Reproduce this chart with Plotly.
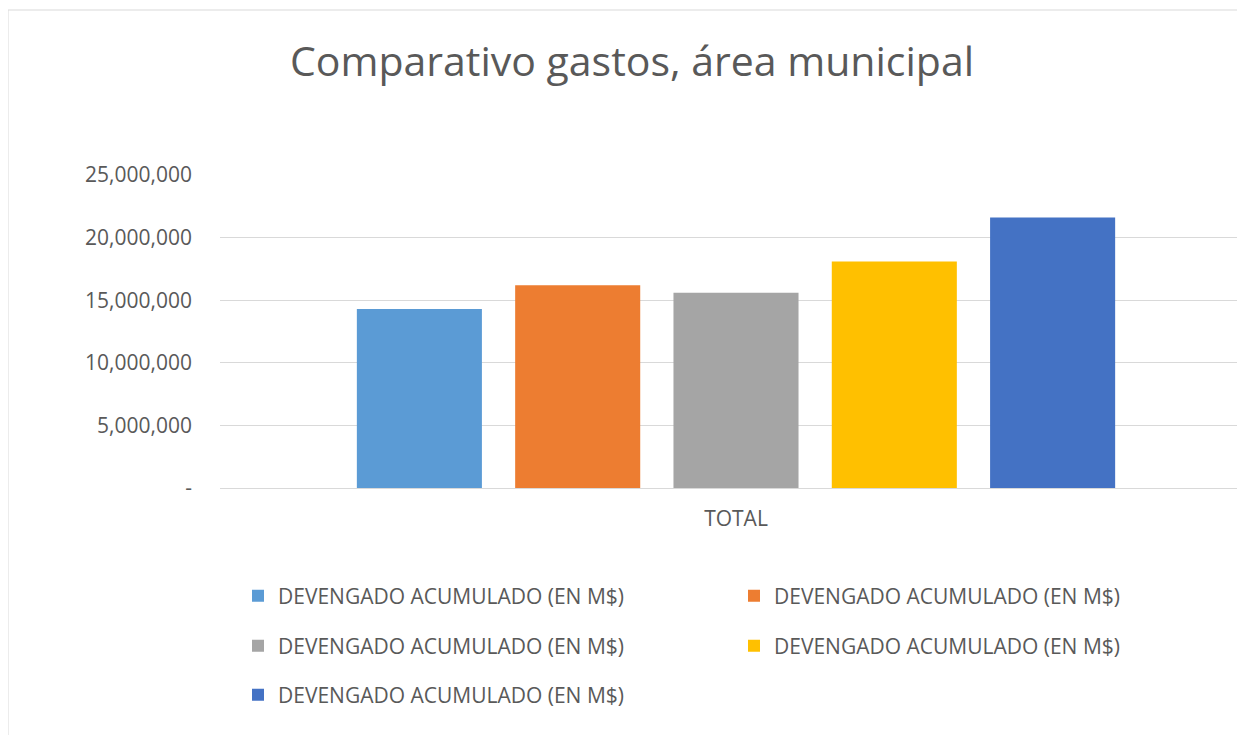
import plotly.graph_objects as go

categories = ["TOTAL"]
series_names = ["DEVENGADO ACUMULADO (EN M$)"] * 5
series_values = [14300000, 16200000, 15600000, 18100000, 21600000]
series_colors = ["#5B9BD5", "#ED7D31", "#A5A5A5", "#FFC000", "#4472C4"]
tick_vals = [0, 5000000, 10000000, 15000000, 20000000, 25000000]
tick_text = ["-", "5,000,000", "10,000,000", "15,000,000", "20,000,000", "25,000,000"]

FONT = "Open Sans"
TXT = "#595959"
OFF = 8  # body margin of the html page

W, H = 1245 - OFF, 735 - OFF
L, T = 220 - OFF, 175 - OFF
R = 0
B = H - (488 - OFF)
pw = W - L - R
ph = H - T - B
right_px = L + pw + OFF

def px_x(x):
    return (x - OFF - L) / pw

def px_y(y):
    return (H - B - (y - OFF)) / ph

# legend placements (reference pixel coords of swatch left / row centre)
leg_pos = [(238, 596), (734, 596), (238, 646), (734, 646), (238, 695)]
leg_ids = ["legend", "legend2", "legend3", "legend4", "legend5"]

fig = go.Figure()
for name, val, col, lg in zip(series_names, series_values, series_colors, leg_ids):
    fig.add_trace(go.Bar(x=categories, y=[val], name=name, marker=dict(color=col, line=dict(width=0)),
                         legend=lg, showlegend=True))

leg_common = dict(orientation="h", xanchor="left", yanchor="middle", visible=True,
                  font=dict(family=FONT, size=21, color=TXT), bgcolor="rgba(0,0,0,0)")
legends = {lid: dict(x=px_x(x), y=px_y(y), **leg_common) for lid, (x, y) in zip(leg_ids, leg_pos)}

# category band is wider than the visible plot area (it runs past the right edge)
band_px = 1032
x_range = [-(736 - 220) / band_px, (right_px - 736) / band_px]

fig.update_layout(
    width=W, height=H,
    margin=dict(l=L, r=R, t=T, b=B),
    paper_bgcolor="white", plot_bgcolor="white",
    showlegend=True,
    barmode="group", bargap=0.233, bargroupgap=0.21,
    title=dict(text="Comparativo gastos, área municipal", x=(632 - OFF) / W, xanchor="center",
               y=1 - (62 - OFF) / H, yanchor="middle",
               font=dict(family=FONT, size=41, color=TXT)),
    font=dict(family=FONT, color=TXT),
    xaxis=dict(showline=True, linecolor="#D9D9D9", linewidth=1, showgrid=False, range=x_range,
               tickfont=dict(family=FONT, size=21, color=TXT), ticks="", ticklabelstandoff=12),
    yaxis=dict(range=[0, 25000000], tickvals=tick_vals, ticktext=tick_text,
               showgrid=True, gridcolor="#D9D9D9", gridwidth=1, zeroline=False,
               showline=False, ticks="", ticklabelstandoff=27,
               tickfont=dict(family=FONT, size=21, color=TXT)),
    shapes=[dict(type="rect", xref="paper", yref="paper",
                 x0=px_x(8), x1=px_x(1245 + 30), y0=px_y(735 + 30), y1=px_y(10),
                 line=dict(color="#D9D9D9", width=1), fillcolor="rgba(0,0,0,0)", layer="below")],
    **legends,
)

fig.write_html("out.html")
